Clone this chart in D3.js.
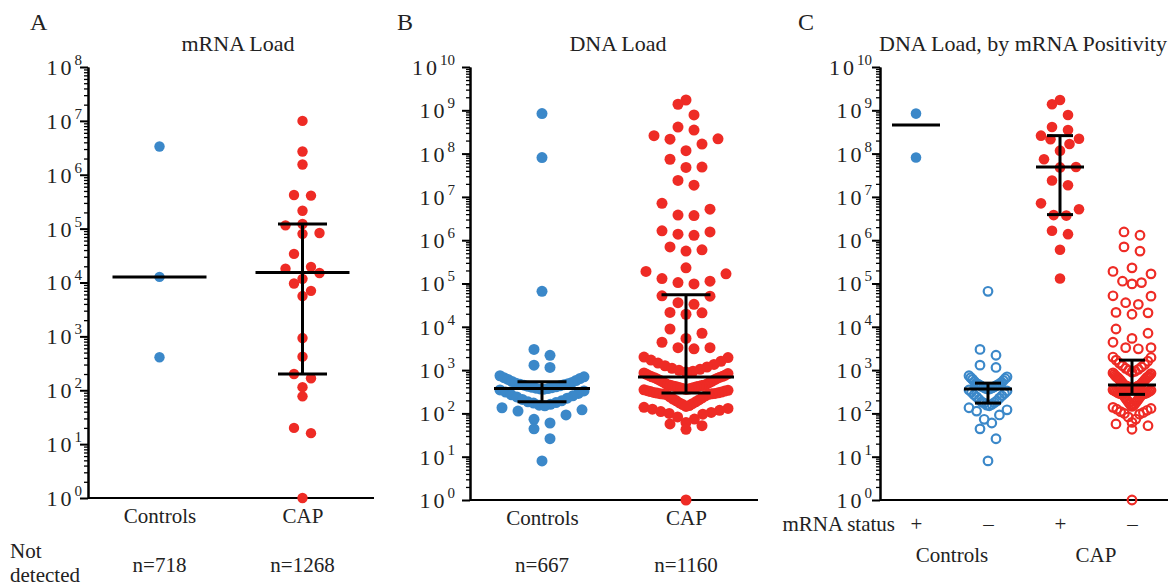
<!DOCTYPE html>
<html>
<head>
<meta charset="utf-8">
<style>
  body { margin: 0; background: #fff; }
  svg, svg text { font-family: "Liberation Serif", "DejaVu Serif", serif !important; }
  svg text { fill: #222; }
  .axis path, .axis line { stroke: #000; }
  .axis path { stroke-width: 2px; }
  .axis line { stroke-width: 1.3px; }
</style>
</head>
<body>
<script src="https://d3js.org/d3.v7.min.js"></script>
<script>
// --- data ---------------------------------------------------------------
var groupsAB = ["Controls", "CAP"];
var groupsC = ["ctrlPos", "ctrlNeg", "capPos", "capNeg"];
var statusLabels = ["+", "\u2013", "+", "\u2013"];
var notDetectedA = ["n=718", "n=1268"];
var notDetectedB = ["n=667", "n=1160"];

// panel A: mRNA load (detected samples)
var mrnaControls = [3.35e6, 1.27e4, 410];
var mrnaCAP = [1e7, 2.7e6, 1.55e6, 4.2e5, 4.1e5, 2.15e5, 1.22e5, 1.15e5, 8.3e4, 8e4,
  3.4e4, 1.95e4, 1.8e4, 1.5e4, 1.17e4, 9.6e3, 7e3, 5.6e3, 930, 420, 200, 167, 114, 77, 20, 16, 1];

// panel C: DNA load split by mRNA status (panel B = pos + neg)
var dnaCtrlPos = [8.4e8, 8.1e7];
var dnaCtrlNeg = [6.6e4, 3000, 2200, 1300, 1150,
  740, 700, 670, 640, 610, 575, 545, 520,
  498, 485, 472, 460, 448, 435, 422, 412, 402, 392, 382, 375, 368,
  362, 348, 330, 310, 290, 270, 255, 240, 225, 210, 195, 185, 178,
  173, 162, 155, 150, 135, 121, 113, 92, 73, 60, 44, 26, 8];
var dnaCapPos = [1.73e9, 1.38e9, 7.8e8, 4.1e8, 3.5e8, 2.6e8, 2.2e8, 2.15e8, 1.66e8, 1.17e8,
  7.4e7, 4.8e7, 4.9e7, 2.4e7, 1.86e7, 7.1e6, 5.2e6, 3.8e6, 3.7e6, 1.65e6, 1.38e6, 6.0e5, 1.3e5];
var dnaCapNeg = [1.55e6, 1.3e6, 7e5, 5.6e5, 2.3e5, 1.9e5, 1.67e5, 1.13e5, 1.05e5, 9.8e4,
  5.2e4, 5.1e4, 3.6e4, 3.3e4, 2.15e4, 2.1e4, 1.95e4, 8.9e3, 7.1e3, 5.4e3, 4.4e3, 3.3e3, 3.3e3,
  3.1e3, 2.0e3, 1.95e3, 1.7e3,
  1600, 1450, 1350, 1260, 1180, 1100, 1040, 990, 940, 900, 860, 830, 800, 770, 745, 720, 700,
  688, 670, 650, 625, 605, 585, 560, 540, 520, 500, 480, 460,
  449, 444, 438, 432, 425, 418, 410, 402, 395, 388, 380, 372, 365, 358, 350, 342, 335, 328, 320, 312, 305, 298,
  294, 290, 286, 283, 280, 276,
  270, 255, 240, 228, 215, 205, 195, 185, 175, 168, 160, 152, 145, 138, 130, 125, 118, 110, 105,
  100, 96, 83, 74, 62, 57, 52, 43, 1];

// median / interquartile range bars as drawn (null = not drawn)
var mrnaMedian = [1.27e4, 1.53e4], mrnaQ1 = [null, 200], mrnaQ3 = [null, 1.22e5];
var dnaMedian = [378, 690], dnaQ1 = [185, 295], dnaQ3 = [540, 5.5e4];
var splitMedian = [4.6e8, 365, 4.9e7, 450], splitQ1 = [null, 173, 3.9e6, 275], splitQ3 = [null, 500, 2.6e8, 1700];

var blue = "#3b88c9", red = "#ee2b25";
var serif = "'Liberation Serif', 'DejaVu Serif', serif";

var svg = d3.select("body").append("svg")
  .attr("width", 1170).attr("height", 588)
  .style("font-family", serif);

function label(sel, x, y, txt, size, anchor) {
  return sel.append("text").attr("x", x).attr("y", y)
    .attr("text-anchor", anchor || "start")
    .style("font-family", serif).style("font-size", size + "px")
    .text(txt);
}

// prism-style column scatter: bin by height, spread each bin from the centre outwards
function swarm(vals, cx, y, o) {
  var bottom = y.range()[0];
  var pts = vals.map(function (v) { return { v: v, py: y(v) }; });
  d3.groups(pts, function (d) { return Math.floor((bottom - d.py + o.binH / 2) / o.binH); })
    .forEach(function (b) {
      var arr = b[1].sort(function (a, c) { return a.v - c.v; });
      var n = arr.length;
      var step = n > 1 ? Math.min(o.step, 2 * o.half / (n - 1)) : 0;
      arr.forEach(function (d, i) {
        var m, s;
        if (n % 2) { m = Math.ceil(i / 2); s = i % 2 ? 1 : -1; }
        else { m = Math.floor(i / 2) + 0.5; s = i % 2 ? -1 : 1; }
        d.px = cx + s * m * step;
      });
    });
  return pts;
}

function drawPanel(p) {
  var g = svg.append("g");
  var x = d3.scalePoint().domain(p.groups).range(p.xRange).padding(0.5);
  var y = d3.scaleLog().domain([1, p.yMax]).range([p.yBottom, 67]);
  var nDec = Math.round(Math.log10(p.yMax));
  var majors = d3.range(0, nDec + 1).map(function (e) { return Math.pow(10, e); });
  var minors = [];
  majors.slice(0, -1).forEach(function (t) { d3.range(2, 10).forEach(function (m) { minors.push(m * t); }); });

  // y axis
  g.append("g").attr("class", "axis").attr("transform", "translate(" + p.xRange[0] + ",0)")
    .call(d3.axisLeft(y).tickValues(minors).tickSize(4).tickSizeOuter(0).tickFormat(""));
  g.append("g").attr("class", "axis").attr("transform", "translate(" + p.xRange[0] + ",0)")
    .call(d3.axisLeft(y).tickValues(majors).tickSize(8).tickSizeOuter(0).tickFormat(""))
    .selectAll(".tick line").style("stroke-width", "2px");

  var lab = g.selectAll("text.ylab").data(majors).enter().append("text")
    .attr("class", "ylab")
    .attr("x", p.xRange[0] - p.labelGap)
    .attr("y", function (d) { return y(d); })
    .attr("dy", "0.36em")
    .attr("text-anchor", "end")
    .style("font-family", serif)
    .style("font-size", "22px");
  lab.append("tspan").style("letter-spacing", "3px").text("10");
  lab.append("tspan").attr("dy", -10).style("font-size", "15px")
    .text(function (d) { return Math.round(Math.log10(d)); });

  // x axis
  var xa = g.append("g").attr("class", "axis").attr("transform", "translate(0," + p.yBottom + ")")
    .call(d3.axisBottom(x).tickSize(0).tickSizeOuter(0)
      .tickFormat(function (d, i) { return p.tickText[i]; }));
  xa.attr("font-family", null);
  xa.select(".domain").attr("d", "M" + p.xRange[0] + ",0H" + p.xRange[1]);
  xa.selectAll(".tick text").attr("y", p.tickY).attr("dy", 0)
    .style("font-family", serif).style("font-size", "21px").style("fill", "#222");

  // dots
  p.groups.forEach(function (grp, i) {
    var pts = swarm(p.data[i], x(grp), y, p.sw);
    g.append("g").selectAll("circle").data(pts).enter().append("circle")
      .attr("cx", function (d) { return d.px; })
      .attr("cy", function (d) { return d.py; })
      .attr("r", p.filled[i] ? p.r : p.r - 1)
      .style("fill", p.filled[i] ? p.colors[i] : "none")
      .style("stroke", p.filled[i] ? "none" : p.colors[i])
      .style("stroke-width", 2.2);
  });

  // median and IQR bars
  p.groups.forEach(function (grp, i) {
    var cx = x(grp);
    var bars = g.append("g").style("stroke", "#000").style("stroke-width", 3);
    bars.append("line").attr("x1", cx - p.medHalf).attr("x2", cx + p.medHalf)
      .attr("y1", y(p.median[i])).attr("y2", y(p.median[i]));
    if (p.q1[i] != null) {
      bars.append("line").attr("x1", cx).attr("x2", cx)
        .attr("y1", y(p.q1[i])).attr("y2", y(p.q3[i]));
      [p.q1[i], p.q3[i]].forEach(function (q) {
        bars.append("line").attr("x1", cx - p.capHalf).attr("x2", cx + p.capHalf)
          .attr("y1", y(q)).attr("y2", y(q));
      });
    }
  });

  label(g, p.letterX, 30, p.letter, 24);
  label(g, p.titleX, 51, p.title, 22, "middle");
  return x;
}

var xA = drawPanel({
  letter: "A", letterX: 30, title: "mRNA Load", titleX: 238,
  groups: groupsAB, tickText: groupsAB, tickY: 25,
  data: [mrnaControls, mrnaCAP], colors: [blue, red], filled: [true, true],
  xRange: [88, 374], yBottom: 498, yMax: 1e8, labelGap: 6, r: 5.2,
  median: mrnaMedian, q1: mrnaQ1, q3: mrnaQ3, medHalf: 47, capHalf: 24.5,
  sw: { binH: 14, step: 17, half: 42 }
});

var xB = drawPanel({
  letter: "B", letterX: 397, title: "DNA Load", titleX: 618,
  groups: groupsAB, tickText: groupsAB, tickY: 25,
  data: [dnaCtrlPos.concat(dnaCtrlNeg), dnaCapPos.concat(dnaCapNeg)],
  colors: [blue, red], filled: [true, true],
  xRange: [470, 758], yBottom: 500, yMax: 1e10, labelGap: 15, r: 5.5,
  median: dnaMedian, q1: dnaQ1, q3: dnaQ3, medHalf: 48, capHalf: 24.5,
  sw: { binH: 17, step: 16, half: 42 }
});

var xC = drawPanel({
  letter: "C", letterX: 798, title: "DNA Load, by mRNA Positivity", titleX: 1023,
  groups: groupsC, tickText: statusLabels, tickY: 31,
  data: [dnaCtrlPos, dnaCtrlNeg, dnaCapPos, dnaCapNeg],
  colors: [blue, blue, red, red], filled: [true, false, true, false],
  xRange: [880, 1168], yBottom: 500, yMax: 1e10, labelGap: 8, r: 5.3,
  median: splitMedian, q1: splitQ1, q3: splitQ3, medHalf: 24, capHalf: 13,
  sw: { binH: 17, step: 16, half: 19 }
});

// "not detected" counts under panels A and B
label(svg, 10, 558, "Not", 21);
label(svg, 10, 582, "detected", 21);
groupsAB.forEach(function (grp, i) {
  label(svg, xA(grp), 572, notDetectedA[i], 21, "middle");
  label(svg, xB(grp), 572, notDetectedB[i], 21, "middle");
});

// panel C group labels
label(svg, 895, 531, "mRNA status", 21, "end");
label(svg, (xC("ctrlPos") + xC("ctrlNeg")) / 2, 562, "Controls", 21, "middle");
label(svg, (xC("capPos") + xC("capNeg")) / 2, 562, "CAP", 21, "middle");
</script>
</body>
</html>
